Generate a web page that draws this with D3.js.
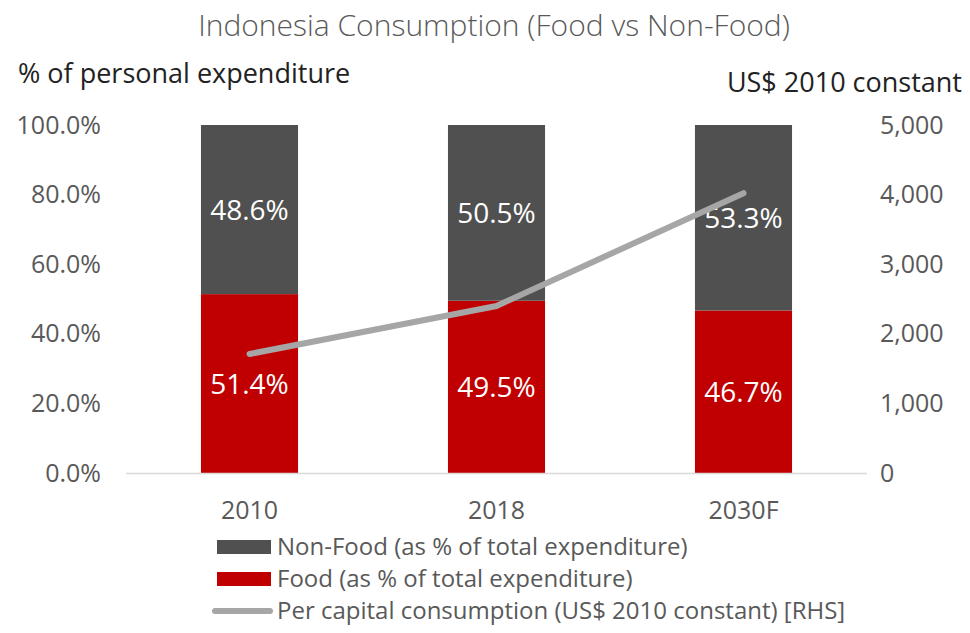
<!DOCTYPE html>
<html>
<head>
<meta charset="utf-8">
<script src="https://cdn.jsdelivr.net/npm/d3@7"></script>
<style>
  body { margin: 0; background: #fff; }
  svg text { font-family: "Open Sans", "Noto Sans", sans-serif; }
</style>
</head>
<body>
<svg id="svg1" width="970" height="633"></svg>
<script>
var annees = ["2010", "2018", "2030F"];
var food = [51.4, 49.5, 46.7];
var nonFood = [48.6, 50.5, 53.3];
var parTete = [1710, 2400, 4020];
var ticksGauche = [0, 20, 40, 60, 80, 100];
var ticksDroite = [0, 1000, 2000, 3000, 4000, 5000];

var svg = d3.select("#svg1");
var gris = "#595959";

var x = d3.scaleBand().domain(annees).range([126, 867]).paddingInner(0.607).paddingOuter(0.3035);
var y = d3.scaleLinear().domain([0, 100]).range([473, 125]);
var y2 = d3.scaleLinear().domain([0, 5000]).range([473, 125]);

// titre
svg.append("text").attr("x", 494).attr("y", 36).attr("text-anchor", "middle")
    .style("font-size", "30px").style("font-weight", 300).style("fill", gris)
    .text("Indonesia Consumption (Food vs Non-Food)");
svg.append("text").attr("x", 18).attr("y", 83)
    .style("font-size", "27px").style("fill", "#222")
    .text("% of personal expenditure");
svg.append("text").attr("x", 962).attr("y", 92).attr("text-anchor", "end")
    .style("font-size", "27px").style("fill", "#222")
    .text("US$ 2010 constant");

// axes
var axeG = svg.append("g").attr("transform", "translate(101,0)")
    .call(d3.axisLeft(y).tickValues(ticksGauche).tickSize(0).tickPadding(0)
        .tickFormat(function(d){ return d3.format(".1f")(d) + "%"; }));
var axeD = svg.append("g").attr("transform", "translate(880,0)")
    .call(d3.axisRight(y2).tickValues(ticksDroite).tickSize(0).tickPadding(0)
        .tickFormat(d3.format(",")));
var axeX = svg.append("g").attr("transform", "translate(0,473)")
    .call(d3.axisBottom(x).tickSize(0).tickPadding(0));
axeX.selectAll("text").attr("y", 37).attr("dy", "0.35em");
[axeG, axeD, axeX].forEach(function(a){
    a.select(".domain").remove();
    a.selectAll("text").style("font-size", "25px").style("fill", gris)
        .style("font-family", "'Open Sans', sans-serif");
});

// barres
var donnees = annees.map(function(a, i){ return {annee: a, food: food[i], nonFood: nonFood[i]}; });
svg.selectAll(".food").data(donnees).enter().append("rect")
    .attr("x", function(d){ return x(d.annee); })
    .attr("width", x.bandwidth())
    .attr("y", function(d){ return y(d.food); })
    .attr("height", function(d){ return y(0) - y(d.food); })
    .style("fill", "#c00000");
svg.selectAll(".nonfood").data(donnees).enter().append("rect")
    .attr("x", function(d){ return x(d.annee); })
    .attr("width", x.bandwidth())
    .attr("y", function(d){ return y(d.food + d.nonFood); })
    .attr("height", function(d){ return y(d.food) - y(d.food + d.nonFood); })
    .style("fill", "#505050");

svg.append("line").attr("x1", 126).attr("x2", 867).attr("y1", 473.5).attr("y2", 473.5)
    .style("stroke", "#d9d9d9").style("stroke-width", 1.5);

// etiquettes
svg.selectAll(".lblF").data(donnees).enter().append("text")
    .attr("x", function(d){ return x(d.annee) + x.bandwidth() / 2; })
    .attr("y", function(d){ return (y(0) + y(d.food)) / 2 + 10; })
    .attr("text-anchor", "middle").style("font-size", "28px").style("fill", "#fff")
    .text(function(d){ return d.food.toFixed(1) + "%"; });
svg.selectAll(".lblN").data(donnees).enter().append("text")
    .attr("x", function(d){ return x(d.annee) + x.bandwidth() / 2; })
    .attr("y", function(d){ return (y(d.food) + y(100)) / 2 + 10; })
    .attr("text-anchor", "middle").style("font-size", "28px").style("fill", "#fff")
    .text(function(d){ return d.nonFood.toFixed(1) + "%"; });

// ligne
var ligne = d3.line()
    .x(function(d, i){ return x(annees[i]) + x.bandwidth() / 2; })
    .y(function(d){ return y2(d); });
svg.append("path").datum(parTete).attr("d", ligne)
    .style("fill", "none").style("stroke", "#a6a6a6").style("stroke-width", 6)
    .style("stroke-linecap", "round").style("stroke-linejoin", "round");

// legende
var legende = [
    {nom: "Non-Food (as % of total expenditure)", type: "rect", coul: "#505050"},
    {nom: "Food (as % of total expenditure)", type: "rect", coul: "#c00000"},
    {nom: "Per capital consumption (US$ 2010 constant) [RHS]", type: "line", coul: "#a6a6a6"}
];
var leg = svg.selectAll(".leg").data(legende).enter().append("g")
    .attr("transform", function(d, i){ return "translate(0," + (547 + i * 32) + ")"; });
leg.filter(function(d){ return d.type == "rect"; }).append("rect")
    .attr("x", 217).attr("y", -7).attr("width", 54).attr("height", 14)
    .style("fill", function(d){ return d.coul; });
leg.filter(function(d){ return d.type == "line"; }).append("line")
    .attr("x1", 215).attr("x2", 270).attr("y1", 0).attr("y2", 0)
    .style("stroke", function(d){ return d.coul; }).style("stroke-width", 6)
    .style("stroke-linecap", "round");
leg.append("text").attr("x", 277).attr("y", 8)
    .style("font-size", "24px").style("fill", gris)
    .text(function(d){ return d.nom; });
</script>
</body>
</html>
